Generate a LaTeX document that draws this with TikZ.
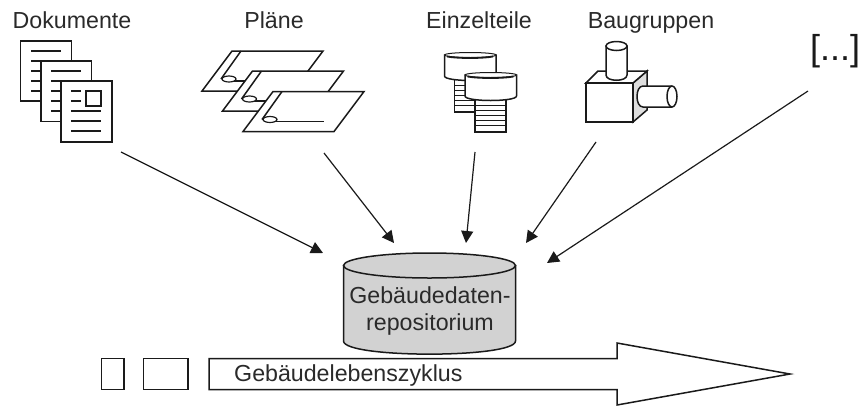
\documentclass[tikz,border=0pt]{standalone}
\usepackage{fontspec}
\setmainfont{Liberation Sans}
\usetikzlibrary{arrows.meta}
\definecolor{ink}{HTML}{1A1A1A}
\definecolor{txt}{HTML}{2A2A2A}
\definecolor{repo}{HTML}{D2D2D2}
\tikzset{
  lbl/.style={inner sep=0pt,text=txt,font=\fontsize{23.2}{28}\selectfont,anchor=base},
  ln/.style={draw=ink,line width=1.5pt},
  sheet/.style={ln,fill=white,line join=miter},
  conn/.style={draw=ink,line width=1.2pt,-{Triangle[length=12pt,width=12pt]}},
}
\begin{document}
\begin{tikzpicture}[x=1pt,y=-1pt]
\useasboundingbox (0,0) rectangle (861,405);
% labels
\node[lbl] (ldok) at (72,28) {Dokumente};
\node[lbl] (lpla) at (274,28) {Pläne};
\node[lbl] (lein) at (479,28) {Einzelteile};
\node[lbl] (lbau) at (651,28) {Baugruppen};
\node[inner sep=0pt,text=ink,font=\fontsize{36}{40}\selectfont,anchor=base] (letc) at (835,60) {[...]};
% documents
\path[sheet] (20.5,41) rectangle (71.5,101);
\draw[ln] (31,51)--(61,51) (31,61)--(41,61) (31,71)--(41,71) (31,81)--(41,81) (31,91)--(41,91);
\path[sheet] (41,61) rectangle (91.5,121.5);
\draw[ln] (51,71)--(81,71) (51,81)--(61,81) (51,91)--(61,91) (51,101)--(61,101) (51,111)--(61,111);
\path[sheet] (61,81) rectangle (112,142);
\draw[ln] (71,91)--(81,91) (71,101)--(81,101) (71,111)--(101,111) (71,121)--(101,121) (71,131)--(101,131);
\path[sheet] (86,91) rectangle (101,106);
% plans
\foreach \dx/\dy in {0/0,20.5/20,41/40.5}{
  \begin{scope}[shift={(\dx,\dy)}]
    \path[sheet] (232,51)--(323,51)--(293,91)--(202,91)--cycle;
    \draw[ln] (241,51)--(221,79);
    \draw[ln] (229,81) -- (283,81);
    \path[ln,fill=white,line width=1.2pt] (229,79) ellipse [x radius=7,y radius=3];
  \end{scope}
}
% parts
\foreach \dx/\dy in {0/0,20.5/20}{
  \begin{scope}[shift={(\dx,\dy)}]
    \path[sheet] (454.5,76) rectangle (485.5,112);
    \draw[ln,line width=1pt] (454.5,85)--(485.5,85) (454.5,90)--(485.5,90) (454.5,95)--(485.5,95) (454.5,100)--(485.5,100) (454.5,105)--(485.5,105);
    \path[sheet] (444.5,55) -- (444.5,76) .. controls (444.5,82) and (496,82) .. (496,76) -- (496,55) -- cycle;
    \path[ln,fill=white,line width=1pt] (470.25,55) ellipse [x radius=25.75,y radius=2.5];
    \draw[ink,line width=1.8pt] (447,56.5) .. controls (458,58.5) and (482,58.5) .. (493,56.5);
  \end{scope}
}
% assembly
\path[ln,fill=repo!70!white] (633,83)--(647,71)--(647,110)--(633,122)--cycle;
\path[sheet] (586,83)--(598,71)--(647,71)--(633,83)--cycle;
\path[sheet] (586,83) rectangle (633,122);
\path[sheet] (672,86) -- (643,86) .. controls (635,86) and (635,107) .. (643,107) -- (672,107);
\path[ln,fill=white] (672,96.5) ellipse [x radius=5,y radius=10.5];
\path[sheet] (606,46) -- (606,75) .. controls (606,82) and (627,82) .. (627,75) -- (627,46) -- cycle;
\path[ln,fill=white] (616.5,46) ellipse [x radius=10.5,y radius=4.5];
% repository
\path[ln,fill=repo] (343.5,265.5) -- (343.5,341) .. controls (343.5,358.5) and (515.5,358.5) .. (515.5,341) -- (515.5,265.5) -- cycle;
\path[ln,fill=repo] (429.5,265.5) ellipse [x radius=86,y radius=12.5];
\node[lbl,align=center] (rep1) at (430,303) {Gebäudedaten-};
\node[lbl,align=center] (rep2) at (430,330) {repositorium};
% arrow ends
\coordinate (s1) at (121,152); \coordinate (t1) at (323,253);
\coordinate (s2) at (324,153); \coordinate (t2) at (394,243);
\coordinate (s3) at (475,152); \coordinate (t3) at (466,243);
\coordinate (s4) at (596,142); \coordinate (t4) at (526,243);
\coordinate (s5) at (808,91);  \coordinate (t5) at (547,263);
\foreach \i in {1,...,5}{\draw[conn] (s\i) -- (t\i);}
% lifecycle
\path[ln,fill=white] (101.5,358.5) rectangle (124,389.5);
\path[ln,fill=white] (143.5,358.5) rectangle (188,389.5);
\path[ln,fill=white] (209,358.5) -- (617,358.5) -- (617,343) -- (790,374) -- (617,405) -- (617,389.5) -- (209,389.5) -- cycle;
\node[lbl,anchor=base west] (life) at (234,381.5) {Gebäudelebenszyklus};
\end{tikzpicture}
\end{document}
